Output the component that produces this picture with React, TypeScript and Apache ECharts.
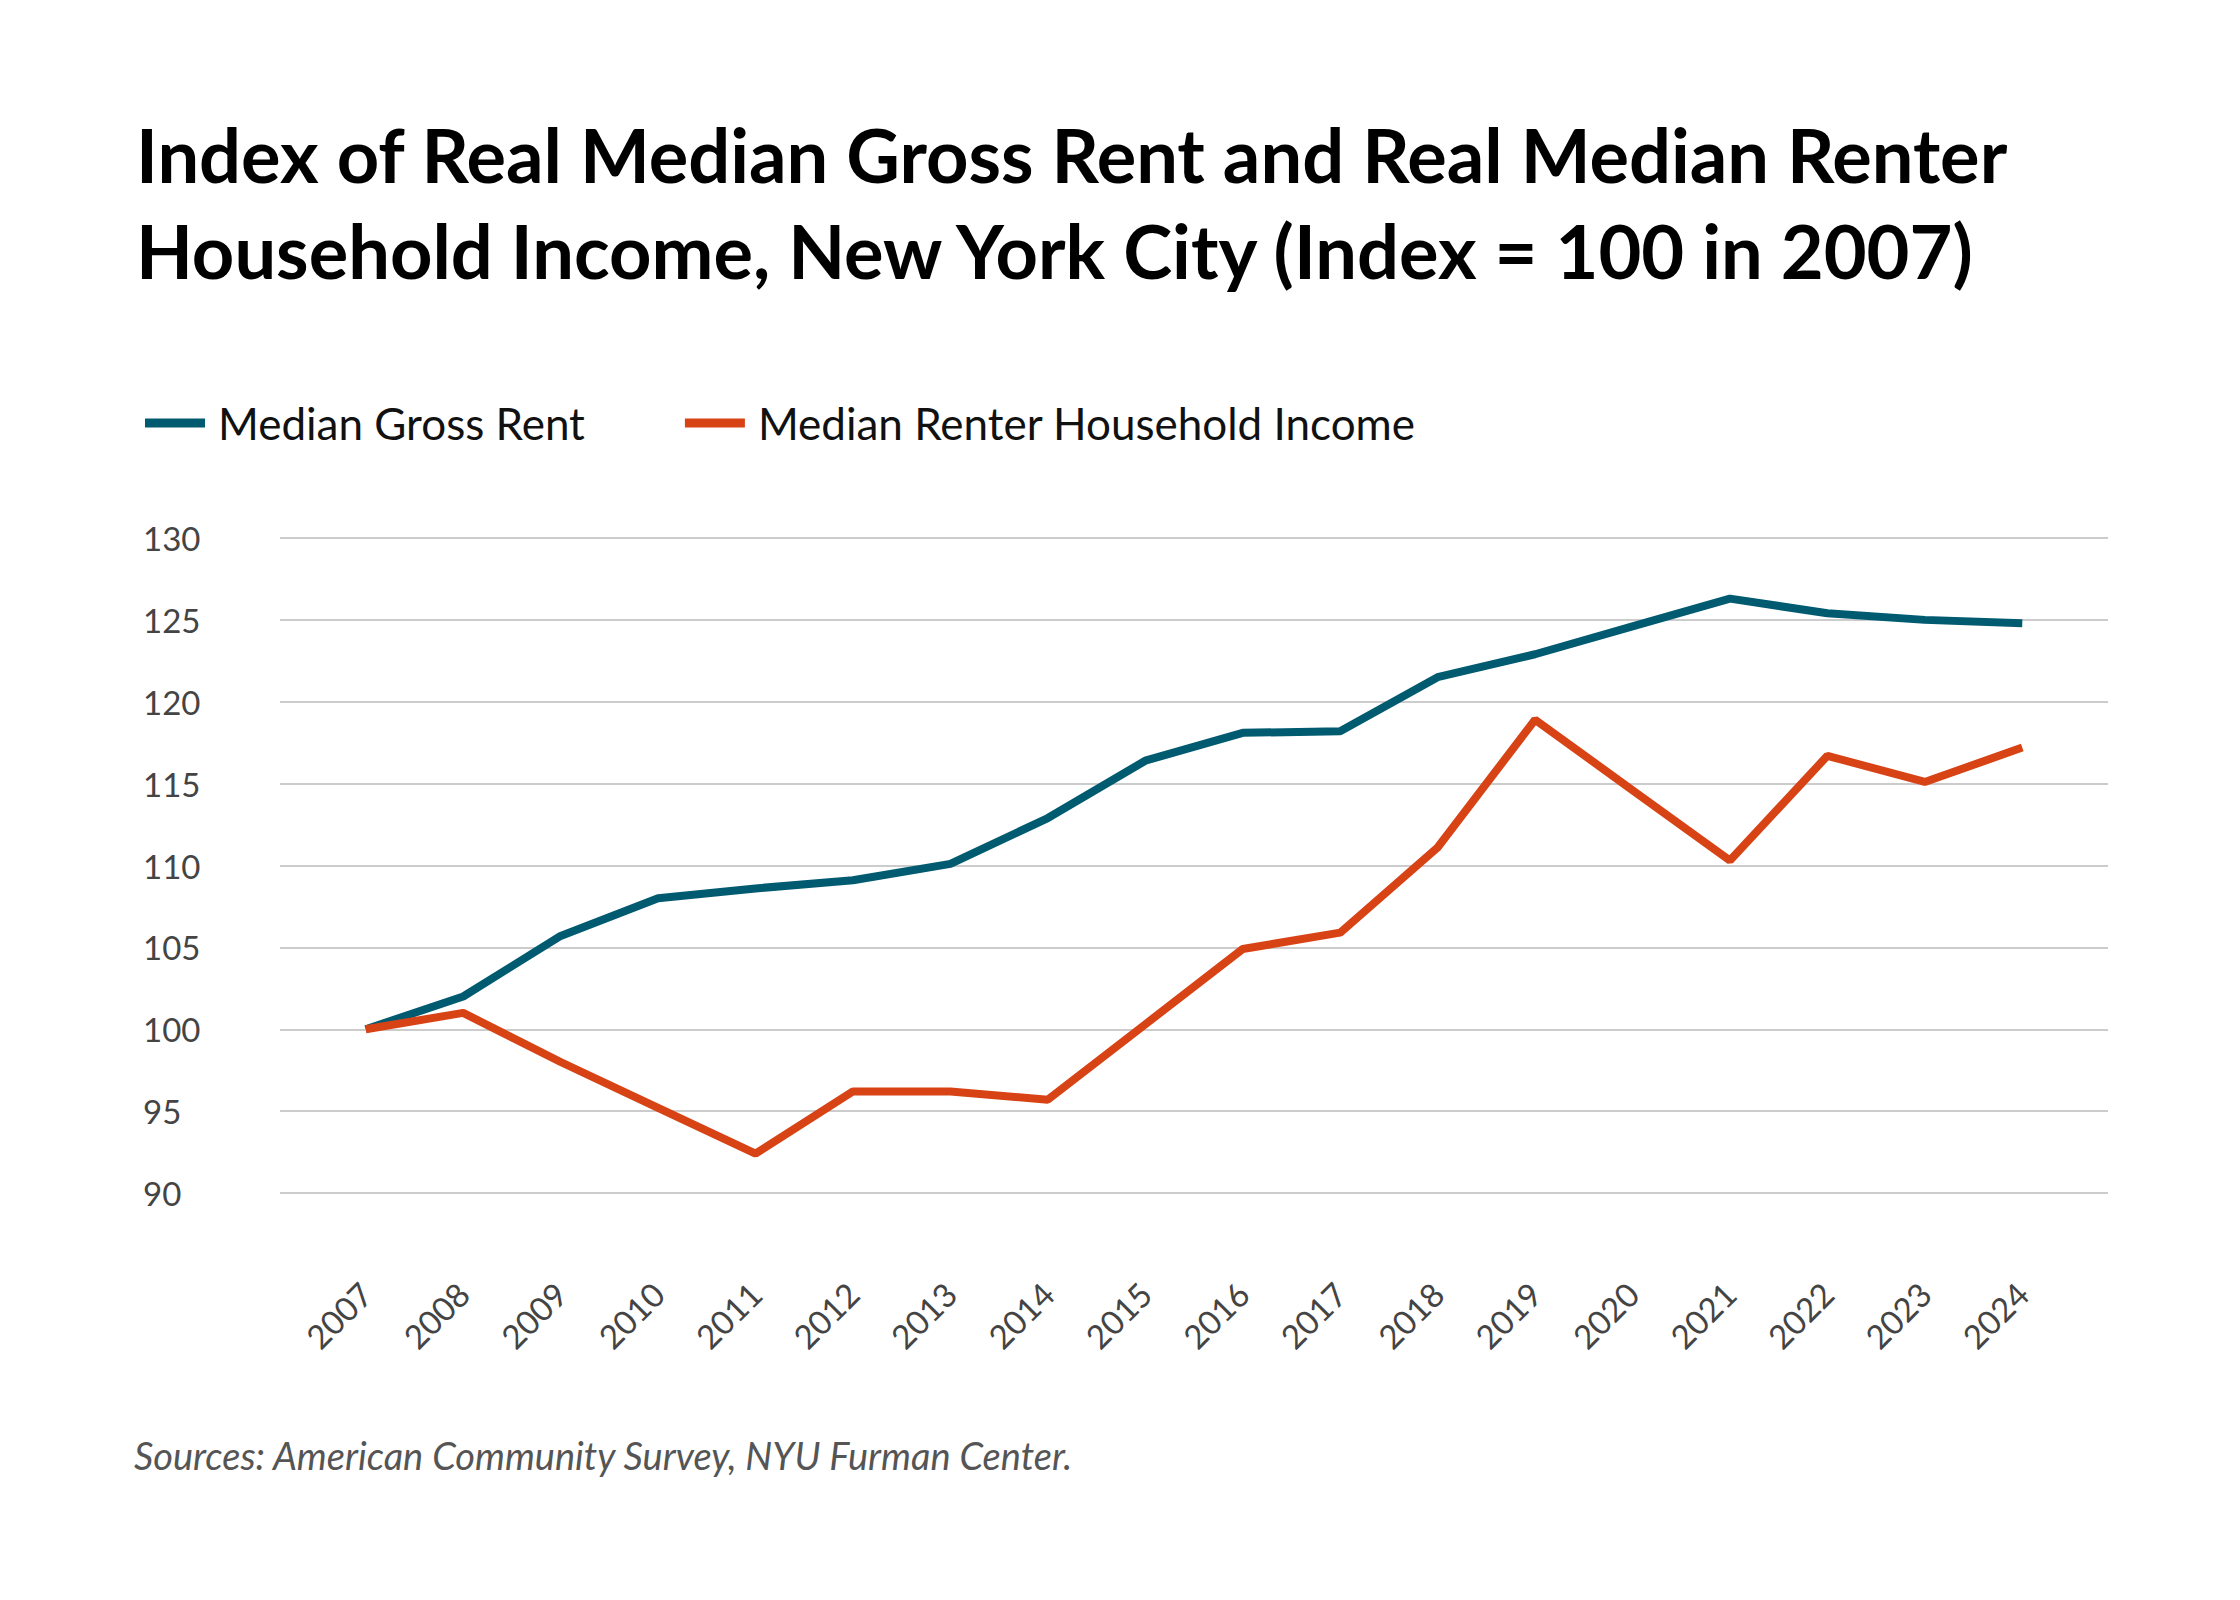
import React, { useEffect, useRef } from 'react';
import * as echarts from 'echarts';

const years = [2007, 2008, 2009, 2010, 2011, 2012, 2013, 2014, 2015, 2016, 2017, 2018, 2019, 2020, 2021, 2022, 2023, 2024];
const rent = [100, 102, 105.7, 108, 108.6, 109.1, 110.1, 112.9, 116.4, 118.1, 118.2, 121.5, 122.9, 124.6, 126.3, 125.4, 125.0, 124.8];
const income = [100, 101, 98, 95.2, 92.4, 96.2, 96.2, 95.7, 100.3, 104.9, 105.9, 111.1, 118.9, 114.6, 110.3, 116.7, 115.1, 117.2];

export default function App() {
  const ref = useRef<HTMLDivElement>(null);
  useEffect(() => {
    document.body.style.margin = '0';
    if (!ref.current) return;
    const chart = echarts.init(ref.current, null, { renderer: 'svg' });
    chart.setOption({
      animation: false,
      backgroundColor: '#fff',
      textStyle: { fontFamily: 'Lato' },
      graphic: [
        { type: 'text', left: 136, top: 106, style: { text: 'Index of Real Median Gross Rent and Real Median Renter\nHousehold Income, New York City (Index = 100 in 2007)', font: 'bold 74px Lato', fill: '#000', lineHeight: 96 } },
        { type: 'text', left: 134, top: 1436, style: { text: 'Sources: American Community Survey, NYU Furman Center.', font: 'italic 38px Lato', fill: '#555' } },
      ],
      legend: {
        left: 140, top: 396, icon: 'rect', itemWidth: 60, itemHeight: 9, itemGap: 100,
        textStyle: { fontSize: 44, color: '#111', fontFamily: 'Lato', padding: [0, 0, 0, 8] },
        data: ['Median Gross Rent', 'Median Renter Household Income'],
      },
      grid: { left: 280, right: 132, top: 538, bottom: 407, containLabel: false },
      xAxis: {
        type: 'value', min: 2006.12, max: 2024.88,
        axisLine: { show: false }, axisTick: { show: false }, splitLine: { show: false },
        axisLabel: { customValues: years, rotate: 45, margin: 95, fontSize: 33, color: '#444', formatter: (v: number) => String(v) },
      },
      yAxis: {
        type: 'value', min: 90, max: 130, interval: 5,
        axisLine: { show: false }, axisTick: { show: false },
        splitLine: { lineStyle: { color: '#cccccc', width: 2 } },
        axisLabel: { fontSize: 33, color: '#444', align: 'left', margin: 137 },
      },
      series: [
        { name: 'Median Gross Rent', type: 'line', symbol: 'none', color: '#005a70', lineStyle: { width: 8 }, data: years.map((y, i) => [y, rent[i]]) },
        { name: 'Median Renter Household Income', type: 'line', symbol: 'none', color: '#d84315', lineStyle: { width: 8 }, data: years.map((y, i) => [y, income[i]]) },
      ],
    });
    return () => chart.dispose();
  }, []);
  return <div ref={ref} style={{ width: 2240, height: 1600 }} />;
}
